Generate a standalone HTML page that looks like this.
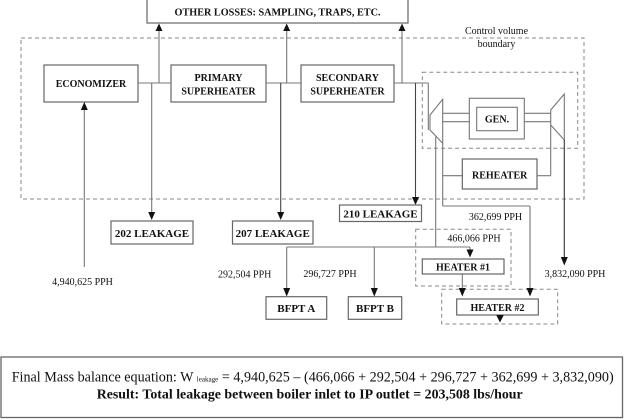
<!DOCTYPE html>
<html>
<head>
<meta charset="utf-8">
<style>
  html,body{margin:0;padding:0;background:#fff;}
  svg{display:block;}
  text{font-family:"Liberation Serif","Times New Roman",serif;fill:#111;}
  .b{font-weight:bold;}
</style>
</head>
<body>
<svg width="624" height="419" viewBox="0 0 624 419" xmlns="http://www.w3.org/2000/svg">
  <defs></defs>
  <rect x="0" y="0" width="624" height="419" fill="#fff"/>

  <!-- Top box -->
  <rect x="147" y="-1" width="261" height="24" fill="#fff" stroke="#666" stroke-width="1.2"/>
  <text class="b" x="277.5" y="15.5" font-size="10" text-anchor="middle" textLength="206" lengthAdjust="spacingAndGlyphs">OTHER LOSSES: SAMPLING, TRAPS, ETC.</text>

  <!-- Control volume boundary -->
  <rect x="21" y="38" width="563" height="161" fill="none" stroke="#888" stroke-width="1" stroke-dasharray="4,3"/>
  <text x="496.5" y="34" font-size="10" text-anchor="middle">Control volume</text>
  <text x="496.5" y="47" font-size="10" text-anchor="middle">boundary</text>

  <!-- Boxes: economizer, primary, secondary -->
  <rect x="44" y="65" width="94" height="37" fill="#fff" stroke="#666" stroke-width="1.2"/>
  <text class="b" x="91" y="87" font-size="10" text-anchor="middle">ECONOMIZER</text>

  <rect x="171" y="65" width="95" height="37" fill="#fff" stroke="#666" stroke-width="1.2"/>
  <text class="b" x="218.5" y="81" font-size="10" text-anchor="middle">PRIMARY</text>
  <text class="b" x="218.5" y="94.5" font-size="10" text-anchor="middle">SUPERHEATER</text>

  <rect x="301" y="65" width="93" height="37" fill="#fff" stroke="#666" stroke-width="1.2"/>
  <text class="b" x="347.5" y="81" font-size="10" text-anchor="middle">SECONDARY</text>
  <text class="b" x="347.5" y="94.5" font-size="10" text-anchor="middle">SUPERHEATER</text>

  <!-- Connectors between boxes -->
  <g stroke="#777" stroke-width="1.1" fill="none">
    <line x1="138" y1="83" x2="171" y2="83"/>
    <line x1="266" y1="83" x2="301" y2="83"/>
    <line x1="394" y1="83" x2="428.5" y2="83"/>
    <!-- up to other losses -->
    <line x1="159" y1="83" x2="159" y2="30"/>
    <line x1="286.7" y1="83" x2="286.7" y2="30"/>
    <line x1="402" y1="83" x2="402" y2="30"/>
    <!-- down to leakages -->
    <line x1="151.7" y1="83" x2="151.7" y2="213"/>
    <!-- economizer feed -->
    <line x1="84.3" y1="267" x2="84.3" y2="108"/>
  </g>
  <g stroke="#444" stroke-width="1.1" fill="none">
    <line x1="280.7" y1="83" x2="280.7" y2="213"/>
    <line x1="415.5" y1="83" x2="415.5" y2="198"/>
  </g>
  <!-- Arrowheads -->
  <g fill="#111">
    <polygon points="155.5,31 162.5,31 159,23.5"/>
    <polygon points="283.2,31 290.2,31 286.7,23.5"/>
    <polygon points="398.5,31 405.5,31 402,23.5"/>
    <polygon points="80.8,110 87.8,110 84.3,102"/>
    <polygon points="148.2,212 155.2,212 151.7,220"/>
    <polygon points="277.2,212 284.2,212 280.7,220"/>
    <polygon points="412,197 419,197 415.5,205"/>
  </g>

  <!-- Leakage boxes -->
  <rect x="111" y="221" width="82" height="23" fill="#fff" stroke="#666" stroke-width="1.2"/>
  <text class="b" x="152" y="237" font-size="11" text-anchor="middle">202 LEAKAGE</text>
  <rect x="232.5" y="221" width="80.5" height="23" fill="#fff" stroke="#666" stroke-width="1.2"/>
  <text class="b" x="272.7" y="237" font-size="11" text-anchor="middle">207 LEAKAGE</text>
  <rect x="339.5" y="205" width="82" height="16.5" fill="#fff" stroke="#666" stroke-width="1.2"/>
  <text class="b" x="380.5" y="217.3" font-size="11" text-anchor="middle">210 LEAKAGE</text>

  <text x="82.5" y="285" font-size="10" text-anchor="middle">4,940,625 PPH</text>

  <!-- Turbine / generator dashed box -->
  <rect x="422.3" y="72.3" width="155.4" height="76" fill="none" stroke="#888" stroke-width="1" stroke-dasharray="4,3"/>

  <g stroke="#777" stroke-width="1.1" fill="none">
    <!-- steam line into HP -->
    <line x1="428.3" y1="83" x2="428.3" y2="130"/>
    <!-- HP turbine -->
    <polygon points="430,115 442.7,99.3 442.7,143.3 430,130" fill="#fff"/>
    <!-- IP turbine -->
    <polygon points="550.7,110 564.3,94 564.3,140 550.7,125" fill="#fff"/>
    <!-- shafts -->
    <line x1="442.7" y1="113.3" x2="469.3" y2="113.3"/>
    <line x1="442.7" y1="121.7" x2="469.3" y2="121.7"/>
    <line x1="524.3" y1="113.3" x2="550.7" y2="113.3"/>
    <line x1="524.3" y1="121.7" x2="550.7" y2="121.7"/>
    <!-- GEN boxes -->
    <rect x="469.3" y="98.3" width="55" height="40.7" fill="#fff"/>
    <rect x="476.7" y="107.3" width="40.6" height="23.4" fill="#fff"/>
    <!-- HP exhaust to reheater / heater 2 -->
    <line x1="442.7" y1="143.3" x2="442.7" y2="206"/>
    <line x1="442.7" y1="175.7" x2="462.3" y2="175.7"/>
    <line x1="442.7" y1="206" x2="530" y2="206"/>
    <line x1="530" y1="206" x2="530" y2="289"/>
    <!-- reheater to IP -->
    <line x1="537" y1="175.7" x2="550.7" y2="175.7"/>
    <line x1="550.7" y1="175.7" x2="550.7" y2="125"/>
    <!-- HP extraction -->
    <line x1="435.7" y1="136.8" x2="435.7" y2="247"/>
    <line x1="286.7" y1="247" x2="470" y2="247"/>
    <line x1="286.7" y1="247" x2="286.7" y2="289"/>
    <line x1="374.3" y1="247" x2="374.3" y2="289"/>
    <line x1="470" y1="247" x2="470" y2="250"/>
    <!-- heater 1 to heater 2 -->
    <line x1="462.3" y1="274" x2="462.3" y2="289"/>
  </g>
  <g stroke="#333" stroke-width="1.1" fill="none">
    <line x1="564.3" y1="140" x2="564.3" y2="258"/>
  </g>
  <text class="b" x="497" y="122.5" font-size="10" text-anchor="middle">GEN.</text>

  <!-- Reheater -->
  <rect x="462.3" y="159" width="74.7" height="30" fill="#fff" stroke="#666" stroke-width="1.2"/>
  <text class="b" x="499.7" y="178.5" font-size="10" text-anchor="middle">REHEATER</text>

  <!-- Heater 1 -->
  <rect x="415.7" y="229.3" width="95.3" height="56.7" fill="none" stroke="#888" stroke-width="1" stroke-dasharray="4,3"/>
  <rect x="422.3" y="259" width="81.7" height="15" fill="#fff" stroke="#666" stroke-width="1.2"/>
  <text class="b" x="463" y="270.3" font-size="10" text-anchor="middle">HEATER #1</text>
  <text x="474" y="241.5" font-size="10" text-anchor="middle">466,066 PPH</text>

  <!-- Heater 2 -->
  <rect x="441.7" y="289.3" width="116" height="34.7" fill="none" stroke="#888" stroke-width="1" stroke-dasharray="4,3"/>
  <rect x="456.7" y="299" width="81.6" height="16" fill="#fff" stroke="#666" stroke-width="1.2"/>
  <text class="b" x="497.5" y="311" font-size="10" text-anchor="middle">HEATER #2</text>

  <text x="495.5" y="220" font-size="10" text-anchor="middle">362,699 PPH</text>
  <text x="575" y="277" font-size="10" text-anchor="middle">3,832,090 PPH</text>

  <!-- BFPT -->
  <rect x="266" y="296.7" width="60.7" height="22.6" fill="#fff" stroke="#666" stroke-width="1.2"/>
  <text class="b" x="296.3" y="312" font-size="11" text-anchor="middle">BFPT A</text>
  <rect x="348.3" y="296.7" width="53.4" height="22.6" fill="#fff" stroke="#666" stroke-width="1.2"/>
  <text class="b" x="375" y="312" font-size="11" text-anchor="middle">BFPT B</text>
  <text x="244.7" y="277.5" font-size="10" text-anchor="middle">292,504 PPH</text>
  <text x="330" y="277" font-size="10" text-anchor="middle">296,727 PPH</text>

  <!-- Lower arrowheads -->
  <g fill="#111">
    <polygon points="283.2,288 290.2,288 286.7,296.5"/>
    <polygon points="370.8,288 377.8,288 374.3,296.5"/>
    <polygon points="466.5,249.5 473.5,249.5 470,257.5"/>
    <polygon points="458.8,288 465.8,288 462.3,296.5"/>
    <polygon points="526.5,288 533.5,288 530,296.5"/>
    <polygon points="560.8,257 567.8,257 564.3,265.5"/>
    <polygon points="496.2,315 503.8,315 500,322.5"/>
  </g>

  <!-- Bottom equation box -->
  <rect x="1" y="357" width="621.5" height="60.5" fill="#fff" stroke="#666" stroke-width="1.3"/>
  <text x="11.7" y="381.5" font-size="15" textLength="602" lengthAdjust="spacingAndGlyphs">Final Mass balance equation: W <tspan font-size="7.5">leakage</tspan> = 4,940,625 – (466,066 + 292,504 + 296,727 + 362,699 + 3,832,090)</text>
  <text class="b" x="96.7" y="398.3" font-size="14" textLength="426" lengthAdjust="spacingAndGlyphs">Result: Total leakage between boiler inlet to IP outlet = 203,508 lbs/hour</text>
</svg>
</body>
</html>
